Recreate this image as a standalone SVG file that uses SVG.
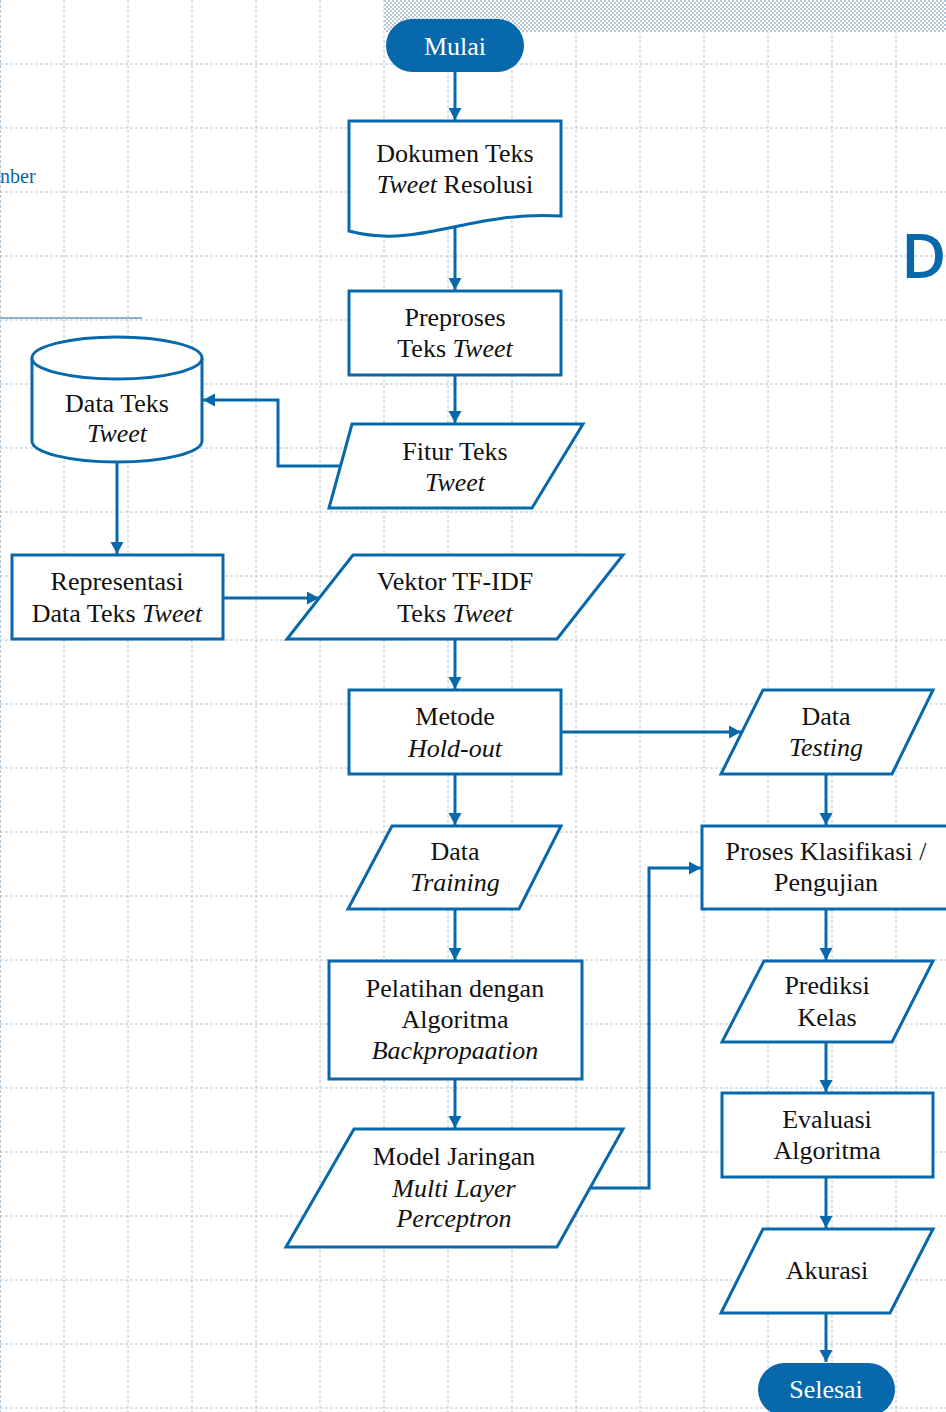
<svg xmlns="http://www.w3.org/2000/svg" width="946" height="1412" viewBox="0 0 946 1412">
  <defs>
    <pattern id="hatch" width="4" height="4" patternUnits="userSpaceOnUse">
      <rect width="4" height="4" fill="#ffffff"/>
      <rect x="0" y="0" width="2" height="2" fill="#b5c7d5"/>
      <rect x="2" y="2" width="2" height="2" fill="#b5c7d5"/>
    </pattern>
    <marker id="arr" markerUnits="userSpaceOnUse" markerWidth="14" markerHeight="14" refX="12" refY="6.5" orient="auto">
      <path d="M0,0 L12,6.5 L0,13 z" fill="#0868ac"/>
    </marker>
  </defs>
  <style>
    .grid line { stroke: #b2c6d6; stroke-width: 1; stroke-dasharray: 3 2; }
    .shape { fill: #ffffff; stroke: #0868ac; stroke-width: 3; }
    .term { fill: #0868ac; stroke: none; }
    .t { font-family: "Liberation Serif", "Times New Roman", serif; font-size: 26px; fill: #111111; text-anchor: middle; }
    .tw { font-family: "Liberation Serif", "Times New Roman", serif; font-size: 26px; fill: #ffffff; text-anchor: middle; }
    .i { font-style: italic; }
    .conn path { fill: none; stroke: #0868ac; stroke-width: 3; marker-end: url(#arr); }
  </style>
  <rect width="946" height="1412" fill="#ffffff"/>
  <g class="grid">
    <line x1="0.5" y1="0" x2="0.5" y2="1412"/>
    <line x1="64" y1="0" x2="64" y2="1412"/>
    <line x1="128" y1="0" x2="128" y2="1412"/>
    <line x1="192" y1="0" x2="192" y2="1412"/>
    <line x1="256" y1="0" x2="256" y2="1412"/>
    <line x1="320" y1="0" x2="320" y2="1412"/>
    <line x1="384" y1="0" x2="384" y2="1412"/>
    <line x1="448" y1="0" x2="448" y2="1412"/>
    <line x1="512" y1="0" x2="512" y2="1412"/>
    <line x1="576" y1="0" x2="576" y2="1412"/>
    <line x1="640" y1="0" x2="640" y2="1412"/>
    <line x1="704" y1="0" x2="704" y2="1412"/>
    <line x1="768" y1="0" x2="768" y2="1412"/>
    <line x1="832" y1="0" x2="832" y2="1412"/>
    <line x1="896" y1="0" x2="896" y2="1412"/>
    <line x1="0" y1="64" x2="946" y2="64"/>
    <line x1="0" y1="128" x2="946" y2="128"/>
    <line x1="0" y1="192" x2="946" y2="192"/>
    <line x1="0" y1="256" x2="946" y2="256"/>
    <line x1="0" y1="320" x2="946" y2="320"/>
    <line x1="0" y1="384" x2="946" y2="384"/>
    <line x1="0" y1="448" x2="946" y2="448"/>
    <line x1="0" y1="512" x2="946" y2="512"/>
    <line x1="0" y1="576" x2="946" y2="576"/>
    <line x1="0" y1="640" x2="946" y2="640"/>
    <line x1="0" y1="704" x2="946" y2="704"/>
    <line x1="0" y1="768" x2="946" y2="768"/>
    <line x1="0" y1="832" x2="946" y2="832"/>
    <line x1="0" y1="896" x2="946" y2="896"/>
    <line x1="0" y1="960" x2="946" y2="960"/>
    <line x1="0" y1="1024" x2="946" y2="1024"/>
    <line x1="0" y1="1088" x2="946" y2="1088"/>
    <line x1="0" y1="1152" x2="946" y2="1152"/>
    <line x1="0" y1="1216" x2="946" y2="1216"/>
    <line x1="0" y1="1280" x2="946" y2="1280"/>
    <line x1="0" y1="1344" x2="946" y2="1344"/>
    <line x1="0" y1="1408" x2="946" y2="1408"/>
  </g>
  <rect x="384" y="0" width="562" height="32" fill="url(#hatch)"/>
  <line x1="0" y1="318" x2="142" y2="318" stroke="#90b0cb" stroke-width="2"/>
  <text x="0" y="183" font-family="Liberation Serif, serif" font-size="20" fill="#0a66a8">nber</text>
  <text x="901" y="278" font-family="Open Sans, Noto Sans, sans-serif" font-size="62" font-weight="600" fill="#0868ac">D</text>

  <g class="conn">
    <path d="M455,72 V120"/>
    <path d="M455,228 V290"/>
    <path d="M455,375 V423"/>
    <path d="M341,466 H278 V400 H203"/>
    <path d="M117,462 V554"/>
    <path d="M223,598 H319"/>
    <path d="M455,639 V689"/>
    <path d="M561,732 H741"/>
    <path d="M455,774 V825"/>
    <path d="M826,774 V825"/>
    <path d="M455,909 V960"/>
    <path d="M455,1079 V1128"/>
    <path d="M590,1188 H649 V868 H701"/>
    <path d="M826,909 V960"/>
    <path d="M826,1042 V1092"/>
    <path d="M826,1177 V1228"/>
    <path d="M826,1313 V1362"/>
  </g>

  <g id="mulai">
    <rect class="term" x="386" y="19" width="138" height="53" rx="26.5"/>
    <text class="tw" x="455" y="55">Mulai</text>
  </g>
  <g id="dokumen">
    <path class="shape" d="M349,121 H561 V216 C470,210 420,250 349,231 Z"/>
    <text class="t" x="455" y="162">Dokumen Teks</text>
    <text class="t" x="455" y="193"><tspan class="i">Tweet</tspan> Resolusi</text>
  </g>
  <g id="preproses">
    <rect class="shape" x="349" y="291" width="212" height="84"/>
    <text class="t" x="455" y="326">Preproses</text>
    <text class="t" x="455" y="357">Teks <tspan class="i">Tweet</tspan></text>
  </g>
  <g id="fitur">
    <path class="shape" d="M352,424 H583 L532,508 H329 Z"/>
    <text class="t" x="455" y="460">Fitur Teks</text>
    <text class="t i" x="455" y="491">Tweet</text>
  </g>
  <g id="datateks">
    <path class="shape" d="M32,358 V441 A85,21 0 0 0 202,441 V358"/>
    <ellipse class="shape" cx="117" cy="358" rx="85" ry="21"/>
    <text class="t" x="117" y="412">Data Teks</text>
    <text class="t i" x="117" y="442">Tweet</text>
  </g>
  <g id="representasi">
    <rect class="shape" x="12" y="555" width="211" height="84"/>
    <text class="t" x="117" y="590">Representasi</text>
    <text class="t" x="117" y="622">Data Teks <tspan class="i">Tweet</tspan></text>
  </g>
  <g id="vektor">
    <path class="shape" d="M353,555 H623 L557,639 H287 Z"/>
    <text class="t" x="455" y="590">Vektor TF-IDF</text>
    <text class="t" x="455" y="622">Teks <tspan class="i">Tweet</tspan></text>
  </g>
  <g id="metode">
    <rect class="shape" x="349" y="690" width="212" height="84"/>
    <text class="t" x="455" y="725">Metode</text>
    <text class="t i" x="455" y="757">Hold-out</text>
  </g>
  <g id="datatesting">
    <path class="shape" d="M763,690 H933 L892,774 H721 Z"/>
    <text class="t" x="826" y="725">Data</text>
    <text class="t i" x="826" y="756">Testing</text>
  </g>
  <g id="datatraining">
    <path class="shape" d="M392,826 H561 L519,909 H348 Z"/>
    <text class="t" x="455" y="860">Data</text>
    <text class="t i" x="455" y="891">Training</text>
  </g>
  <g id="proses">
    <rect class="shape" x="702" y="826" width="250" height="83"/>
    <text class="t" x="826" y="860">Proses Klasifikasi /</text>
    <text class="t" x="826" y="891">Pengujian</text>
  </g>
  <g id="pelatihan">
    <rect class="shape" x="329" y="961" width="253" height="118"/>
    <text class="t" x="455" y="997">Pelatihan dengan</text>
    <text class="t" x="455" y="1028">Algoritma</text>
    <text class="t i" x="455" y="1059">Backpropaation</text>
  </g>
  <g id="prediksi">
    <path class="shape" d="M764,961 H933 L892,1042 H722 Z"/>
    <text class="t" x="827" y="994">Prediksi</text>
    <text class="t" x="827" y="1026">Kelas</text>
  </g>
  <g id="evaluasi">
    <rect class="shape" x="722" y="1093" width="211" height="84"/>
    <text class="t" x="827" y="1128">Evaluasi</text>
    <text class="t" x="827" y="1159">Algoritma</text>
  </g>
  <g id="model">
    <path class="shape" d="M354,1129 H623 L557,1247 H286 Z"/>
    <text class="t" x="454" y="1165">Model Jaringan</text>
    <text class="t i" x="454" y="1197">Multi Layer</text>
    <text class="t i" x="454" y="1227">Perceptron</text>
  </g>
  <g id="akurasi">
    <path class="shape" d="M763,1229 H933 L890,1313 H721 Z"/>
    <text class="t" x="827" y="1279">Akurasi</text>
  </g>
  <g id="selesai">
    <rect class="term" x="758" y="1363" width="137" height="53" rx="26.5"/>
    <text class="tw" x="826" y="1398">Selesai</text>
  </g>
</svg>
